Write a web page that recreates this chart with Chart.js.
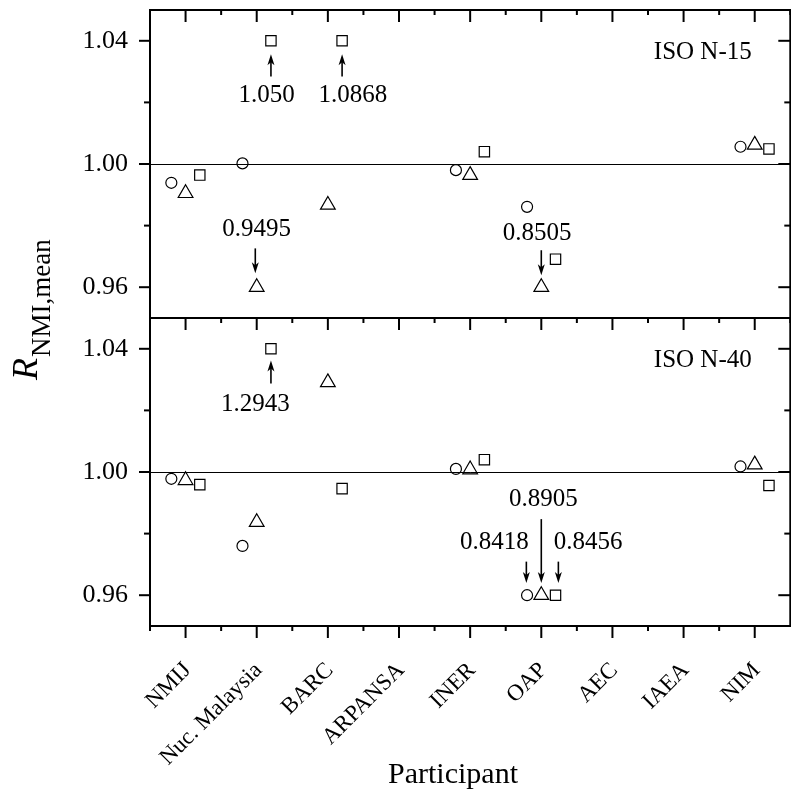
<!DOCTYPE html>
<html>
<head>
<meta charset="utf-8">
<script src="https://cdn.jsdelivr.net/npm/chart.js@4.4.0/dist/chart.umd.min.js"></script>
<style>
  html, body { margin: 0; padding: 0; overflow: hidden; background: #fff; }
  #wrap { width: 800px; height: 793px; }
</style>
</head>
<body>
<div id="wrap"><canvas id="myChart" width="800" height="793"></canvas></div>
<script>
// categories on the x axis (positions 1..9)
const participants = ['NMIJ', 'Nuc. Malaysia', 'BARC', 'ARPANSA', 'INER', 'OAP', 'AEC', 'IAEA', 'NIM'];
const yTicks = [0.96, 1.00, 1.04];
const yMinorTicks = [0.98, 1.02];

// ISO N-15 (top panel), null = no result
const n15Circle   = [0.9939, 1.0002, null, null, 0.9980, 0.9861, null, null, 1.0056];
const n15Triangle = [0.9905, 0.9495, 0.9867, null, 0.9964, 0.8505, null, null, 1.0062];
const n15Square   = [0.9964, 1.050, 1.0868, null, 1.0040, 0.9691, null, null, 1.0049];

// ISO N-40 (bottom panel)
const n40Circle   = [0.9978, 0.9760, null, null, 1.0010, 0.8418, null, null, 1.0018];
const n40Triangle = [0.9973, 0.9837, 1.0291, null, 1.0008, 0.8905, null, null, 1.0024];
const n40Square   = [0.9959, 1.2943, 0.9946, null, 1.0040, 0.8456, null, null, 0.9956];

// off-scale values: text, label centre (x, y) and arrow (x, tail -> tip), data units
const n15Notes = [
  { text: '1.050',  x: 2.14, y: 1.0222, ax: 2.2,  from: 1.0284, to: 1.0356 },
  { text: '1.0868', x: 3.35, y: 1.0222, ax: 3.2,  from: 1.0284, to: 1.0356 },
  { text: '0.9495', x: 2.0,  y: 0.9788, ax: 1.98, from: 0.9726, to: 0.9645 },
  { text: '0.8505', x: 5.94, y: 0.9775, ax: 6.0,  from: 0.9720, to: 0.9639 }
];
const n40Notes = [
  { text: '1.2943', x: 1.98, y: 1.0219, ax: 2.2,  from: 1.0287, to: 1.0362 },
  { text: '0.8905', x: 6.03, y: 0.9910, ax: 6.0,  from: 0.9847, to: 0.9640 },
  { text: '0.8418', x: 5.34, y: 0.9772, ax: 5.79, from: 0.9709, to: 0.9640 },
  { text: '0.8456', x: 6.66, y: 0.9772, ax: 6.24, from: 0.9709, to: 0.9640 }
];
const panelNames = ['ISO N-15', 'ISO N-40'];

const SERIF = '"Liberation Serif", "Times New Roman", serif';

// values beyond the axis are drawn on the edge tick
function onScale(v) {
  return Math.min(1.04, Math.max(0.96, v));
}

function points(values, offset) {
  let out = [];
  values.forEach(function (v, i) {
    if (v !== null) out.push({ x: i + 1 + offset, y: onScale(v) });
  });
  return out;
}

function series(values, offset, style, radius, axis) {
  return {
    data: points(values, offset),
    yAxisID: axis,
    showLine: false,
    pointStyle: style,
    pointRadius: radius,
    pointHoverRadius: radius,
    pointBorderWidth: 1.2,
    pointBorderColor: '#000',
    pointBackgroundColor: 'rgba(0,0,0,0)'
  };
}

function drawArrow(ctx, x, y0, y1) {
  let dir = y1 > y0 ? 1 : -1;
  ctx.beginPath();
  ctx.moveTo(x, y0);
  ctx.lineTo(x, y1 - dir * 6);
  ctx.lineWidth = 1.6;
  ctx.stroke();
  ctx.beginPath();
  ctx.moveTo(x, y1);
  ctx.lineTo(x - 3.5, y1 - dir * 11);
  ctx.lineTo(x, y1 - dir * 8);
  ctx.lineTo(x + 3.5, y1 - dir * 11);
  ctx.closePath();
  ctx.fill();
}

const framePlugin = {
  id: 'frame',
  beforeDatasetsDraw: function (chart) {
    let ctx = chart.ctx, a = chart.chartArea;
    ctx.save();
    ctx.strokeStyle = '#000';
    ctx.lineWidth = 1;
    ['yTop', 'yBot'].forEach(function (id) {
      let y = Math.round(chart.scales[id].getPixelForValue(1.0)) + 0.5;
      ctx.beginPath();
      ctx.moveTo(a.left, y);
      ctx.lineTo(a.right, y);
      ctx.stroke();
    });
    ctx.restore();
  },
  afterDraw: function (chart) {
    let ctx = chart.ctx, a = chart.chartArea;
    let xs = chart.scales.x;
    ctx.save();
    ctx.strokeStyle = '#000';
    ctx.fillStyle = '#000';
    ctx.lineWidth = 2;
    ctx.strokeRect(a.left, a.top, a.right - a.left, a.bottom - a.top);

    let seg = function (x0, y0, x1, y1) {
      ctx.beginPath();
      ctx.moveTo(x0, y0);
      ctx.lineTo(x1, y1);
      ctx.stroke();
    };

    ['yTop', 'yBot'].forEach(function (id, p) {
      let s = chart.scales[id];
      seg(a.left, s.top, a.right, s.top);
      yTicks.forEach(function (v) {
        let y = s.getPixelForValue(v);
        seg(a.left - 11, y, a.left, y);
        seg(a.right - 12, y, a.right, y);
      });
      yMinorTicks.forEach(function (v) {
        let y = s.getPixelForValue(v);
        seg(a.left - 6, y, a.left, y);
        seg(a.right - 6, y, a.right, y);
      });
      // x ticks pointing into each panel from its top edge
      participants.forEach(function (_, i) {
        let x = xs.getPixelForValue(i + 1);
        seg(x, s.top, x, s.top + 12);
        let xm = xs.getPixelForValue(i + 1.5);
        seg(xm, s.top, xm, s.top + 5);
      });

      // panel name
      ctx.font = '25px ' + SERIF;
      ctx.textAlign = 'center';
      ctx.textBaseline = 'middle';
      ctx.fillText(panelNames[p], xs.getPixelForValue(8.27), s.getPixelForValue(1.0362));

      // notes for off-scale results
      let notes = p === 0 ? n15Notes : n40Notes;
      notes.forEach(function (n) {
        ctx.fillText(n.text, xs.getPixelForValue(n.x), s.getPixelForValue(n.y));
        drawArrow(ctx, xs.getPixelForValue(n.ax), s.getPixelForValue(n.from), s.getPixelForValue(n.to));
      });
      ctx.lineWidth = 2;
    });

    // outward ticks below the bottom panel
    participants.forEach(function (_, i) {
      let x = xs.getPixelForValue(i + 1);
      seg(x, a.bottom, x, a.bottom + 12);
      let xm = xs.getPixelForValue(i + 0.5);
      seg(xm, a.bottom, xm, a.bottom + 5);
    });

    // axis titles
    ctx.textAlign = 'center';
    ctx.textBaseline = 'alphabetic';
    ctx.font = '30px ' + SERIF;
    ctx.fillText('Participant', 453, 783);

    ctx.translate(37, 380);
    ctx.rotate(-Math.PI / 2);
    ctx.textAlign = 'left';
    ctx.font = 'italic 36px ' + SERIF;
    ctx.fillText('R', 0, 0);
    let w = ctx.measureText('R').width;
    ctx.font = '27px ' + SERIF;
    ctx.fillText('NMI,mean', w + 1, 13);
    ctx.restore();
  }
};

function yAxis() {
  return {
    type: 'linear',
    position: 'left',
    stack: 'panels',
    stackWeight: 1,
    min: 0.95,
    max: 1.05,
    grid: { display: false, drawTicks: false },
    border: { display: false },
    afterBuildTicks: function (scale) {
      scale.ticks = yTicks.map(function (v) { return { value: v }; });
    },
    afterFit: function (scale) {
      scale.width = 150;
      scale.paddingTop = 0;
      scale.paddingBottom = 0;
    },
    ticks: {
      padding: 22,
      color: '#000',
      font: { family: SERIF, size: 26 },
      callback: function (v) { return Number(v).toFixed(2); }
    }
  };
}

const ctx = document.getElementById('myChart').getContext('2d');
const myChart = new Chart(ctx, {
  type: 'scatter',
  data: {
    datasets: [
      series(n15Circle, -0.2, 'circle', 5.5, 'yTop'),
      series(n15Triangle, 0, 'triangle', 8.5, 'yTop'),
      series(n15Square, 0.2, 'rect', 7.3, 'yTop'),
      series(n40Circle, -0.2, 'circle', 5.5, 'yBot'),
      series(n40Triangle, 0, 'triangle', 8.5, 'yBot'),
      series(n40Square, 0.2, 'rect', 7.3, 'yBot')
    ]
  },
  options: {
    responsive: false,
    animation: false,
    layout: { padding: { top: 10, right: 3, left: 0, bottom: 0 } },
    plugins: { legend: { display: false }, tooltip: { enabled: false } },
    scales: {
      x: {
        type: 'linear',
        position: 'bottom',
        min: 0.5,
        max: 9.5,
        grid: { display: false, drawTicks: false },
        border: { display: false },
        afterBuildTicks: function (scale) {
          scale.ticks = participants.map(function (_, i) { return { value: i + 1 }; });
        },
        afterFit: function (scale) {
          scale.height = 167;
          scale.paddingLeft = 0;
          scale.paddingRight = 0;
        },
        ticks: {
          autoSkip: false,
          minRotation: 45,
          maxRotation: 45,
          padding: 31,
          labelOffset: 2,
          color: '#000',
          font: { family: SERIF, size: 23 },
          callback: function (v) { return participants[Math.round(v) - 1] || ''; }
        }
      },
      // the axis listed last is stacked on top
      yBot: yAxis(),
      yTop: yAxis()
    }
  },
  plugins: [framePlugin]
});
</script>
</body>
</html>
